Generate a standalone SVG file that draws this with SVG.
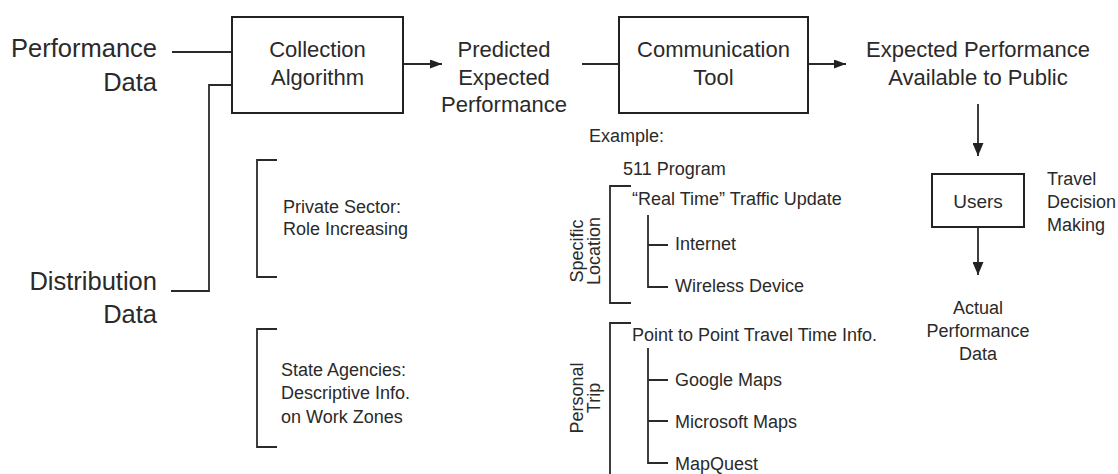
<svg xmlns="http://www.w3.org/2000/svg" width="1118" height="474" viewBox="0 0 1118 474">
<style>
text{font-family:"Liberation Sans",Arial,sans-serif;fill:#2a2a2a}
.big{font-size:25.5px}
.med{font-size:22px}
.sm{font-size:18px}
.mid{text-anchor:middle}
.end{text-anchor:end}
.box{fill:#fff;stroke:#222;stroke-width:2}
.ln{fill:none;stroke:#2a2a2a;stroke-width:1.8}
</style>
<defs>
<marker id="ah" viewBox="0 0 12 9" refX="12" refY="4.5" markerWidth="12" markerHeight="9" markerUnits="userSpaceOnUse" orient="auto">
<path d="M0,0 L12,4.5 L0,9 Z" fill="#222"/>
</marker>
<marker id="ahv" viewBox="0 0 13 11" refX="13" refY="5.5" markerWidth="13" markerHeight="11" markerUnits="userSpaceOnUse" orient="auto">
<path d="M0,0 L13,5.5 L0,11 Z" fill="#222"/>
</marker>
</defs>
<rect width="1118" height="474" fill="#fff"/>

<g id="connectors">
<path class="ln" d="M172,52 H232"/>
<path class="ln" d="M171,291 H209 V85 H232"/>
<path class="ln" d="M403,64 H442" marker-end="url(#ah)"/>
<path class="ln" d="M582,64 H619"/>
<path class="ln" d="M808,64 H846" marker-end="url(#ah)"/>
<path class="ln" d="M978,104 V156" marker-end="url(#ahv)"/>
<path class="ln" d="M978,227 V275" marker-end="url(#ahv)"/>
</g>

<g id="performance-data">
<text class="big end" x="157" y="57">Performance</text>
<text class="big end" x="157" y="91">Data</text>
</g>
<g id="distribution-data">
<text class="big end" x="157" y="290">Distribution</text>
<text class="big end" x="157" y="323">Data</text>
</g>

<g id="collection-algorithm">
<rect class="box" x="232" y="17" width="171" height="96"/>
<text class="med mid" x="317.5" y="57">Collection</text>
<text class="med mid" x="317.5" y="85">Algorithm</text>
</g>

<g id="predicted-expected-performance">
<text class="med mid" x="504" y="57">Predicted</text>
<text class="med mid" x="504" y="85">Expected</text>
<text class="med mid" x="504" y="112">Performance</text>
</g>

<g id="communication-tool">
<rect class="box" x="619" y="17" width="189" height="96"/>
<text class="med mid" x="713.5" y="57">Communication</text>
<text class="med mid" x="713.5" y="85">Tool</text>
</g>

<g id="expected-performance-public">
<text class="med mid" x="978" y="57">Expected Performance</text>
<text class="med mid" x="978" y="85">Available to Public</text>
</g>

<g id="users">
<rect class="box" x="932" y="174" width="92" height="53"/>
<text class="sm mid" x="978" y="208" style="font-size:19px">Users</text>
</g>

<g id="travel-decision-making">
<text class="sm" x="1047" y="185">Travel</text>
<text class="sm" x="1047" y="208">Decision</text>
<text class="sm" x="1047" y="231">Making</text>
</g>

<g id="actual-performance-data">
<text class="sm mid" x="978" y="314">Actual</text>
<text class="sm mid" x="978" y="337">Performance</text>
<text class="sm mid" x="978" y="360">Data</text>
</g>

<g id="private-sector">
<path class="ln" d="M277,160 H257 V277 H277"/>
<text class="sm" x="283" y="213">Private Sector:</text>
<text class="sm" x="283" y="235">Role Increasing</text>
</g>

<g id="state-agencies">
<path class="ln" d="M277,329 H257 V447 H277"/>
<text class="sm" x="281" y="376">State Agencies:</text>
<text class="sm" x="281" y="399">Descriptive Info.</text>
<text class="sm" x="281" y="423">on Work Zones</text>
</g>

<g id="example">
<text class="sm" x="589" y="142">Example:</text>
<text class="sm" x="623" y="175">511 Program</text>
</g>

<g id="specific-location">
<path class="ln" d="M631,186 H610 V303 H631"/>
<text class="sm mid" transform="translate(583,251) rotate(-90)">Specific</text>
<text class="sm mid" transform="translate(600,251) rotate(-90)">Location</text>
<text class="sm" x="632" y="205">“Real Time” Traffic Update</text>
<path class="ln" d="M648,215 V287 H668 M648,245 H668"/>
<text class="sm" x="675" y="250">Internet</text>
<text class="sm" x="675" y="292">Wireless Device</text>
</g>

<g id="personal-trip">
<path class="ln" d="M631,323 H610 V474"/>
<text class="sm mid" transform="translate(583,398) rotate(-90)">Personal</text>
<text class="sm mid" transform="translate(600,398) rotate(-90)">Trip</text>
<text class="sm" x="632" y="341">Point to Point Travel Time Info.</text>
<path class="ln" d="M648,348 V463 H668 M648,380 H668 M648,421 H668"/>
<text class="sm" x="675" y="386">Google Maps</text>
<text class="sm" x="675" y="428">Microsoft Maps</text>
<text class="sm" x="675" y="470">MapQuest</text>
</g>
</svg>
